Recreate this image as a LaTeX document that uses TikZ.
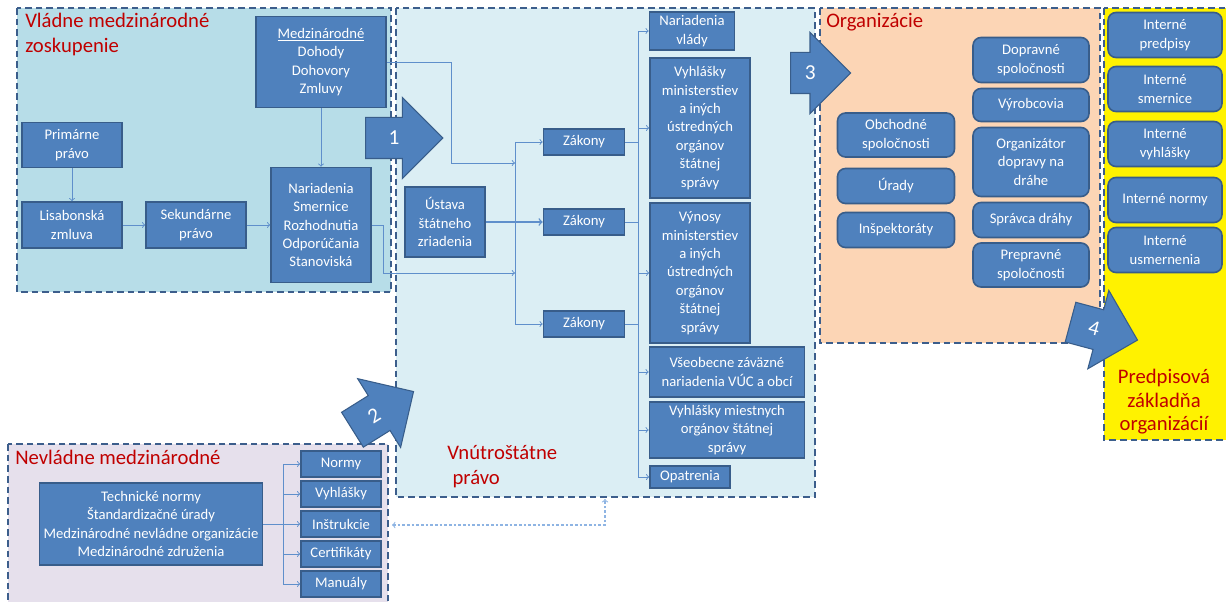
\documentclass[tikz,border=0pt]{standalone}
\usepackage{fontspec}
\setmainfont{Carlito}
\usetikzlibrary{arrows,shapes.arrows}

\definecolor{boxfill}{HTML}{4F81BD}
\definecolor{boxline}{HTML}{385D8A}
\definecolor{linkblue}{HTML}{5F8FCB}
\definecolor{dotblue}{HTML}{8EB4E3}
\definecolor{regline}{HTML}{3C5E8C}
\definecolor{govfill}{HTML}{B7DDE8}
\definecolor{natfill}{HTML}{DBEEF4}
\definecolor{orgfill}{HTML}{FCD5B5}
\definecolor{ngofill}{HTML}{E6E0EC}
\definecolor{titlered}{HTML}{C00000}

\begin{document}
\begin{tikzpicture}[x=0.75pt,y=-0.75pt,>=to,
  box/.style={rectangle,fill=boxfill,draw=boxline,line width=1.2pt,
    text=white,align=center,inner sep=1pt,
    font=\fontsize{11}{13.8}\selectfont},
  rbox/.style={box,rounded corners=6pt},
  sz/.style 2 args={minimum width=0.75pt*#1,minimum height=0.75pt*#2},
  link/.style={draw=linkblue,line width=0.7pt},
  dotlink/.style={draw=dotblue,line width=0.8pt,dash pattern=on 2pt off 1.5pt},
  region/.style={draw=regline,line width=1.5pt,dash pattern=on 5pt off 3pt},
  title/.style={text=titlered,align=left,inner sep=0pt,anchor=north west,
    font=\fontsize{15.5}{19}\selectfont},
  bigarrow/.style={single arrow,fill=boxfill,draw=boxline,line width=0.8pt,
    minimum width=60pt,single arrow head extend=15pt,anchor=tail,
    text height=19pt,text depth=9pt,inner sep=1pt,
    text=white,font=\fontsize{16}{16}\selectfont}]

  \useasboundingbox (0,0) rectangle (1226,602);

  % regions
  \draw[region,fill=govfill] (17,8) rectangle (391,292);
  \draw[region,fill=natfill] (396,8) rectangle (815,497);
  \draw[region,fill=orgfill] (820,8) rectangle (1100,343);
  \draw[region,fill=yellow] (1104,8) rectangle (1234,440);
  \draw[region,fill=ngofill] (8,444) rectangle (388,610);

  \node[title] (tgov) at (25,13) {Vládne medzinárodné\\zoskupenie};
  \node[title] (tnat) at (447,445) {Vnútroštátne\\\hspace{4pt}právo};
  \node[title] (torg) at (826,13) {Organizácie};
  \node[title] (tngo) at (15,450) {Nevládne medzinárodné};
  \node[title,anchor=center,align=center,
    font=\fontsize{15.5}{17.6}\selectfont] (tpre) at (1164,402)
    {Predpisová\\základňa\\organizácií};

  % Vladne medzinarodne zoskupenie
  \node[box,sz={130}{91}] (med) at (321,62)
    {\underline{Medzinárodné}\\Dohody\\Dohovory\\Zmluvy};
  \node[box,sz={100}{45}] (prim) at (72,145) {Primárne\\právo};
  \node[box,sz={100}{46}] (lis) at (72,225) {Lisabonská\\zmluva};
  \node[box,sz={100}{46}] (sek) at (196,225) {Sekundárne\\právo};
  \node[box,sz={100}{115}] (nar) at (321,225)
    {Nariadenia\\Smernice\\Rozhodnutia\\Odporúčania\\Stanoviská};

  % Vnutrostatne pravo
  \node[box,sz={80}{70}] (ust) at (445,222) {Ústava\\štátneho\\zriadenia};
  \node[box,sz={81}{26}] (zak1) at (584,142) {Zákony};
  \node[box,sz={81}{26}] (zak2) at (584,222) {Zákony};
  \node[box,sz={81}{26}] (zak3) at (584,324) {Zákony};
  \node[box,sz={85}{38}] (nav) at (692,31) {Nariadenia\\vlády};
  \node[box,sz={100}{140}] (vym) at (700,128)
    {Vyhlášky\\ministerstiev\\a iných\\ústredných\\orgánov\\štátnej\\správy};
  \node[box,sz={100}{140}] (vyn) at (700,273)
    {Výnosy\\ministerstiev\\a iných\\ústredných\\orgánov\\štátnej\\správy};
  \node[box,sz={155}{50}] (vzn) at (727,372)
    {Všeobecne záväzné\\nariadenia VÚC a obcí};
  \node[box,sz={155}{56},inner sep=0pt] (vmo) at (727,430)
    {Vyhlášky miestnych\\orgánov štátnej\\správy};
  \node[box,sz={80}{22}] (opa) at (690,477) {Opatrenia};

  % Organizacie
  \node[rbox,sz={117}{44}] (obch) at (896,135) {Obchodné\\spoločnosti};
  \node[rbox,sz={117}{35}] (urad) at (896,186) {Úrady};
  \node[rbox,sz={117}{35}] (insp) at (896,230) {Inšpektoráty};
  \node[rbox,sz={116}{45}] (dop) at (1031,60) {Dopravné\\spoločnosti};
  \node[rbox,sz={116}{33}] (vyr) at (1031,105) {Výrobcovia};
  \node[rbox,sz={116}{69}] (orgd) at (1031,162) {Organizátor\\dopravy na\\dráhe};
  \node[rbox,sz={116}{35}] (sprd) at (1031,220) {Správca dráhy};
  \node[rbox,sz={116}{44}] (prep) at (1031,265) {Prepravné\\spoločnosti};

  % Predpisova zakladna
  \node[rbox,sz={114}{45}] (ipre) at (1165,35) {Interné\\predpisy};
  \node[rbox,sz={114}{45}] (isme) at (1165,89) {Interné\\smernice};
  \node[rbox,sz={114}{45}] (ivyh) at (1165,144) {Interné\\vyhlášky};
  \node[rbox,sz={114}{45}] (inor) at (1165,200) {Interné normy};
  \node[rbox,sz={114}{45}] (iusm) at (1165,250) {Interné\\usmernenia};

  % Nevladne medzinarodne
  \node[box,sz={223}{82}] (ngo) at (151,524)
    {Technické normy\\Štandardizačné úrady\\Medzinárodné nevládne organizácie\\Medzinárodné združenia};
  \node[box,sz={80}{26}] (nor) at (341,464) {Normy};
  \node[box,sz={80}{26}] (vyh) at (341,494) {Vyhlášky};
  \node[box,sz={80}{26}] (ins) at (341,524) {Inštrukcie};
  \node[box,sz={80}{26}] (cer) at (341,554) {Certifikáty};
  \node[box,sz={80}{26}] (man) at (341,584) {Manuály};

  % connectors
  \coordinate (jA1) at (515,163);
  \coordinate (jA2) at (515,273);
  \coordinate (busB) at (638,0);
  \coordinate (busE) at (283,0);

  \draw[link,->] (prim) -- (lis);
  \draw[link,->] (lis) -- (sek);
  \draw[link,->] (sek) -- (nar);
  \draw[link,->] (med) -- (nar);
  \draw[link,->] (med.east) -- ++(65,0) |- (jA1);
  \draw[link,->] (nar.east) -- ++(12,0) |- (jA2);
  \draw[link] (jA1 |- zak1) -- (jA1 |- zak3);
  \draw[link,->] (jA1 |- zak1) -- (zak1);
  \draw[link,->] (jA1 |- zak3) -- (zak3);
  \draw[link,->,line width=1.1pt] (ust) -- (zak2);

  \foreach \z in {zak1,zak2,zak3}
    \draw[link] (\z.east) -- (\z.east -| busB);
  \draw[link] (busB |- nav) -- (busB |- opa);
  \foreach \n in {nav,vym,vyn,vzn,vmo,opa}
    \draw[link,->] (busB |- \n) -- (\n);

  \draw[link] (ngo) -- (ngo -| busE);
  \draw[link] (busE |- nor) -- (busE |- man);
  \foreach \n in {nor,vyh,ins,cer,man}
    \draw[link,->] (busE |- \n) -- (\n);

  \coordinate (dotE) at (392,525);
  \coordinate (dotB) at (605,499);
  \draw[dotlink,<->] (dotE) -| (dotB);

  % big arrows
  \node[bigarrow,minimum height=58pt] (arr1) at (365,138) {1};
  \node[bigarrow,minimum height=54pt,rotate=32] (arr2) at (352,430) {2};
  \node[bigarrow,minimum height=45pt] (arr3) at (790,73) {3};
  \node[bigarrow,minimum height=52pt,rotate=-15] (arr4) at (1070,322) {4};

\end{tikzpicture}
\end{document}
